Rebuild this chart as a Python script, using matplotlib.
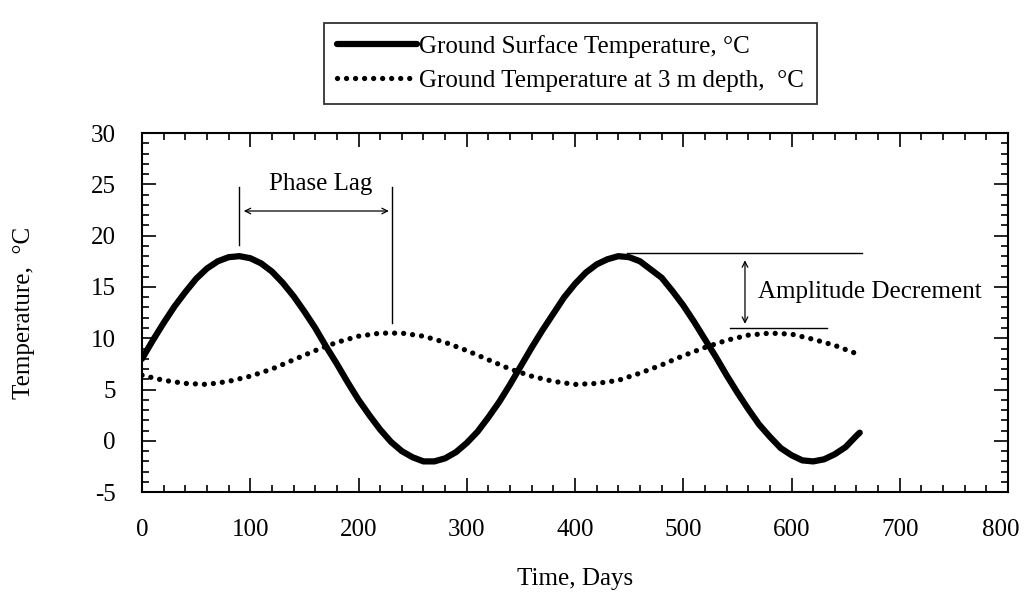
import matplotlib
matplotlib.use("Agg")
import matplotlib.pyplot as plt
import matplotlib.transforms as mtransforms
from matplotlib.ticker import MultipleLocator
import numpy as np

plt.rcParams['font.family'] = ['Liberation Serif', 'DejaVu Serif']
plt.rcParams['axes.unicode_minus'] = False

# ground surface temperature, every 10 days
surf_days = list(range(0, 661, 10)) + [663]
surf_temp = [8.0, 9.8, 11.5, 13.1, 14.5, 15.8, 16.8, 17.5, 17.9, 18.0,
             17.8, 17.3, 16.5, 15.4, 14.1, 12.6, 11.0, 9.2, 7.5, 5.7,
             4.0, 2.5, 1.1, -0.1, -1.0, -1.6, -2.0, -2.0, -1.7, -1.1,
             -0.2, 0.9, 2.3, 3.8, 5.5, 7.3, 9.1, 10.8, 12.4, 14.0,
             15.3, 16.4, 17.2, 17.7, 18.0, 17.9, 17.5, 16.7, 15.9, 14.6,
             13.2, 11.6, 9.9, 8.2, 6.4, 4.7, 3.1, 1.6, 0.4, -0.7,
             -1.4, -1.9, -2.0, -1.8, -1.3, -0.6, 0.5, 0.8]

# ground temperature at 3 m depth, every 20 days
deep_days = list(range(0, 661, 20)) + [663]
deep_temp = [6.4, 5.9, 5.6, 5.5, 5.8, 6.3, 7.0, 7.9, 8.8, 9.6,
             10.2, 10.5, 10.5, 10.2, 9.6, 8.8, 7.9, 7.0, 6.3, 5.8,
             5.5, 5.6, 5.9, 6.6, 7.4, 8.3, 9.1, 9.8, 10.3, 10.5,
             10.4, 9.9, 9.3, 8.5, 8.4]

labels = ['Ground Surface Temperature, \u00b0C',
          'Ground Temperature at 3 m depth,  \u00b0C']

fs = 18

fig = plt.figure(figsize=(10.24, 5.93), dpi=100)
ax = fig.add_axes([0.1387, 0.170, 0.8457, 0.6057])

l1, = ax.plot(surf_days, surf_temp, color='black', lw=4.5,
              solid_capstyle='round', solid_joinstyle='round')
l2, = ax.plot(deep_days, deep_temp, color='black', lw=3.8,
              linestyle=(0, (0.01, 1.7)), dash_capstyle='round')

# phase lag markers
ax.plot([90, 90], [19.1, 24.7], color='black', lw=1)
ax.plot([231, 231], [11.5, 24.7], color='black', lw=1)
ax.annotate('', xy=(94, 22.4), xytext=(228, 22.4),
            arrowprops=dict(arrowstyle='<->', lw=0.9, color='black',
                            shrinkA=0, shrinkB=0, mutation_scale=10))
ax.text(165, 25.0, 'Phase Lag', ha='center', va='center', fontsize=fs)

# amplitude decrement markers
ax.plot([448, 665], [18.3, 18.3], color='black', lw=1)
ax.plot([543, 633], [11.0, 11.0], color='black', lw=1)
ax.annotate('', xy=(557, 17.6), xytext=(557, 11.4),
            arrowprops=dict(arrowstyle='<->', lw=0.9, color='black',
                            shrinkA=0, shrinkB=0, mutation_scale=10))
ax.text(569, 14.5, 'Amplitude Decrement', ha='left', va='center', fontsize=fs)

ax.set_xlim(0, 800)
ax.set_ylim(-5, 30)
ax.xaxis.set_major_locator(MultipleLocator(100))
ax.xaxis.set_minor_locator(MultipleLocator(20))
ax.yaxis.set_major_locator(MultipleLocator(5))
ax.yaxis.set_minor_locator(MultipleLocator(1))
ax.tick_params(which='both', direction='in', top=True, right=True,
               width=1.2, labelsize=fs)
ax.tick_params(which='major', length=10, pad=19)
ax.tick_params(which='minor', length=5)
for sp in ax.spines.values():
    sp.set_linewidth(1.5)

# nudge the "800" label so it stays inside the picture
fig.canvas.draw()
for lab in ax.get_xticklabels():
    if lab.get_text() == '800':
        lab.set_transform(lab.get_transform() +
                          mtransforms.ScaledTranslation(-5 / 72, 0, fig.dpi_scale_trans))

ax.set_xlabel('Time, Days', fontsize=fs)
ax.set_ylabel('Temperature,  \u00b0C', fontsize=fs)
ax.xaxis.set_label_coords(0.5, -0.21)
ax.yaxis.set_label_coords(-0.124, 0.5)

leg = fig.legend([l1, l2], labels, loc='center', bbox_to_anchor=(0.557, 0.893),
                 fontsize=fs, frameon=True, fancybox=False, edgecolor='black',
                 handlelength=3.2, handletextpad=0.1, labelspacing=0.45,
                 borderpad=0.5, borderaxespad=0)
leg.get_frame().set_linewidth(1.3)

fig.savefig('out.png', dpi=100)
